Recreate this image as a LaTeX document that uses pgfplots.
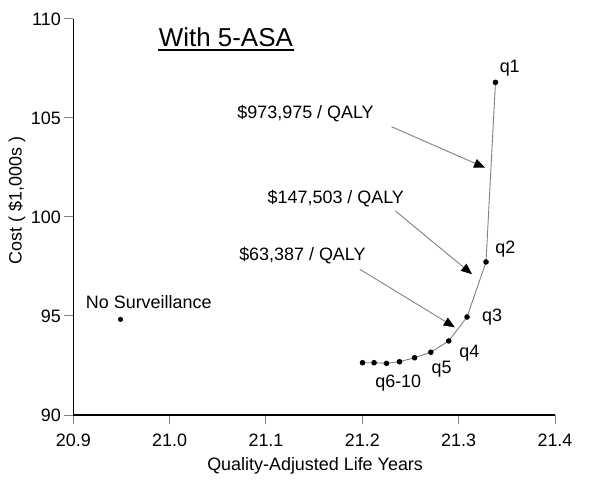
\documentclass[border=0pt]{standalone}
\usepackage{fontspec}
\setmainfont{Liberation Sans}
\usepackage{pgfplots}
\usepackage{pgfplotstable}
\pgfplotsset{compat=1.18}
\usetikzlibrary{arrows.meta}

% efficient frontier, surveillance intervals q1..q10
\pgfplotstableread{
qaly    cost
21.2002 92.64
21.2122 92.64
21.2251 92.61
21.2386 92.69
21.2542 92.89
21.2711 93.17
21.2897 93.74
21.3087 94.95
21.3284 97.73
21.3382 106.80
}\frontier

\begin{document}
\begin{tikzpicture}[font=\fontsize{18}{21}\selectfont]
\useasboundingbox (0,0) rectangle (604bp,487bp);
\begin{axis}[
  at={(73.3bp,72bp)}, anchor=south west,
  scale only axis, width=481.7bp, height=396bp,
  xmin=20.9, xmax=21.4, ymin=90, ymax=110,
  xtick={20.9,21.0,21.1,21.2,21.3,21.4},
  ytick={90,95,100,105,110},
  /pgf/number format/assume math mode=true,
  xticklabel style={/pgf/number format/fixed, /pgf/number format/fixed zerofill,
    /pgf/number format/precision=1, yshift=-6bp},
  axis lines=left,
  axis line style={-, line width=1.5bp, black},
  tick align=outside, major tick length=9bp,
  tick style={gray, line width=1bp},
  xlabel={Quality-Adjusted Life Years},
  ylabel={Cost ( \$1,000s )},
  xlabel style={at={(axis description cs:0.502,-0.128)}, anchor=center},
  ylabel style={at={(axis description cs:-0.117,0.541)}, anchor=center},
  clip=false,
  every node/.append style={text depth=0pt},
]
\addplot[gray, line width=0.9bp, mark=*, mark size=2.3bp,
  mark options={black, fill=black}] table[x=qaly, y=cost] {\frontier};
\addplot[only marks, mark=*, mark size=2.3bp, black] coordinates {(20.949,94.83)};

\node at (axis cs:20.9783,95.72) {No Surveillance};
\node at (axis cs:21.3530,107.51) {q1};
\node at (axis cs:21.3485,98.37) {q2};
\node at (axis cs:21.3347,94.96) {q3};
\node at (axis cs:21.3111,93.12) {q4};
\node at (axis cs:21.2822,92.32) {q5};
\node at (axis cs:21.2373,91.60) {q6-10};

\node at (axis cs:21.1411,105.20) {\$973,975 / QALY};
\node at (axis cs:21.1725,100.94) {\$147,503 / QALY};
\node at (axis cs:21.1378,98.05) {\$63,387 / QALY};

\draw[gray, line width=0.9bp, -{Triangle[length=11bp, width=9bp, color=black]}]
  (axis cs:21.2303,104.56) -- (axis cs:21.3274,102.49);
\draw[gray, line width=0.9bp, -{Triangle[length=11bp, width=9bp, color=black]}]
  (axis cs:21.2344,100.30) -- (axis cs:21.3139,97.11);
\draw[gray, line width=0.9bp, -{Triangle[length=11bp, width=9bp, color=black]}]
  (axis cs:21.1974,97.36) -- (axis cs:21.2960,94.43);

\node at (axis cs:21.0584,109.09) {\fontsize{26}{30}\selectfont With 5-ASA};
\draw[line width=2bp] (axis cs:20.9882,108.43) -- (axis cs:21.1293,108.43);
\end{axis}
\end{tikzpicture}
\end{document}
